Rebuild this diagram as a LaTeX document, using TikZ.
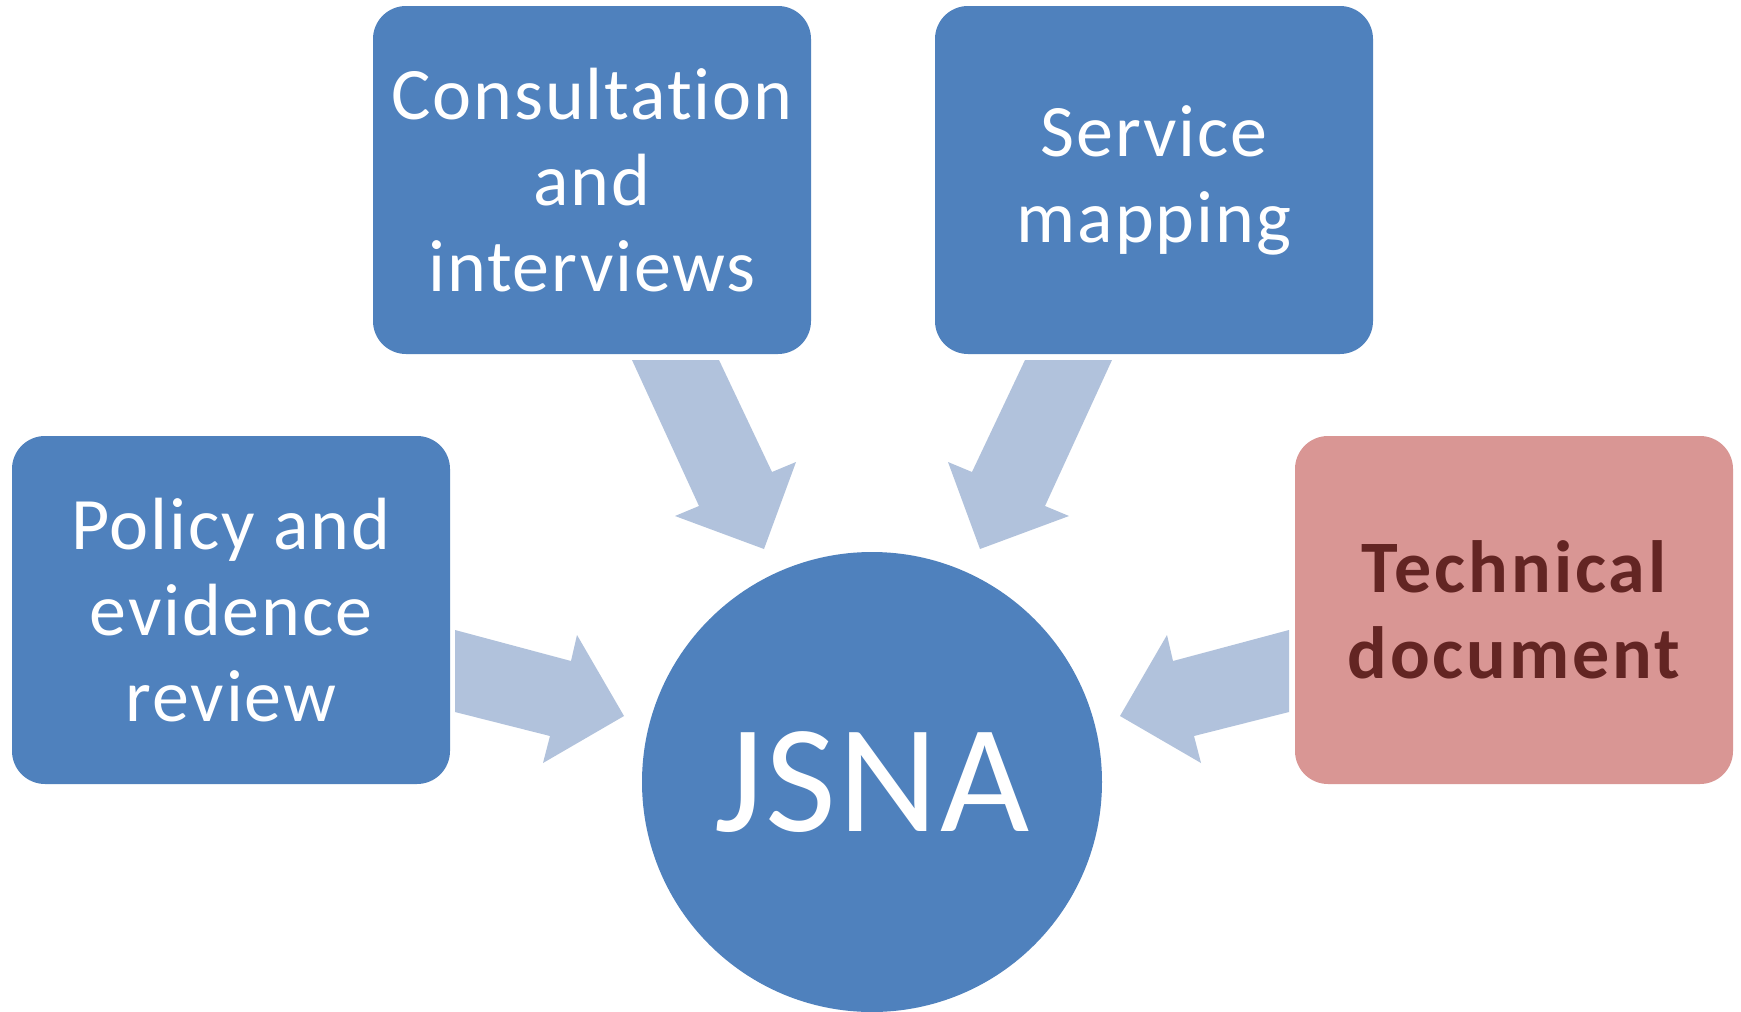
\documentclass[tikz,border=0pt]{standalone}
\usepackage{fontspec}
\setmainfont{Carlito}[Ligatures={NoCommon}]
\definecolor{boxblue}{HTML}{4F81BD}
\definecolor{arrowblue}{HTML}{B1C2DC}
\definecolor{boxpink}{HTML}{D99694}
\definecolor{darkred}{HTML}{632523}
\begin{document}
\begin{tikzpicture}[x=0.5pt,y=-0.5pt,
  box/.style={rectangle, rounded corners=16.5pt, minimum width=219pt, minimum height=174pt,
    inner sep=0pt, align=center, font=\fontsize{37}{43}\selectfont\addfontfeatures{LetterSpace=2.5}},
  bluebox/.style={box, fill=boxblue, text=white},
  pinkbox/.style={box, fill=boxpink, text=darkred,
    font=\fontsize{37}{43}\selectfont\bfseries\addfontfeatures{LetterSpace=4}},
  hub/.style={circle, fill=boxblue, text=white, minimum size=230pt, inner sep=0pt,
    font=\fontsize{77}{90}\selectfont\addfontfeatures{LetterSpace=1.5}},
  blockarrow/.style={fill=arrowblue, draw=none}]
\clip (0,0) rectangle (1741,1012);
\fill[white] (0,0) rectangle (1741,1012);

\node[bluebox] (cons) at (592,180) {Consultation\\and\\interviews};
\node[bluebox] (serv) at (1154,180) {Service\\mapping};
\node[bluebox] (poli) at (231,610) {Policy and\\evidence\\review};
\node[pinkbox] (tech) at (1514,610) {Technical\\document};
\node[hub] (jsna) at (872,782) {JSNA};

% arrow from Consultation
\fill[blockarrow] (632,360) -- (719,360) -- (772,472) -- (796,462) -- (764,549)
  -- (675,516) -- (699,506) -- cycle;
% arrow from Service mapping
\fill[blockarrow] (1112,360) -- (1025,360) -- (972,472) -- (948,462) -- (980,549)
  -- (1069,516) -- (1045,506) -- cycle;
% arrow from Policy
\fill[blockarrow] (455,630) -- (571,661) -- (577,635) -- (624,716) -- (543,763)
  -- (550,736) -- (455,712) -- cycle;
% arrow from Technical
\fill[blockarrow] (1289,630) -- (1173,661) -- (1167,635) -- (1120,716) -- (1201,763)
  -- (1194,736) -- (1289,712) -- cycle;
\end{tikzpicture}
\end{document}
